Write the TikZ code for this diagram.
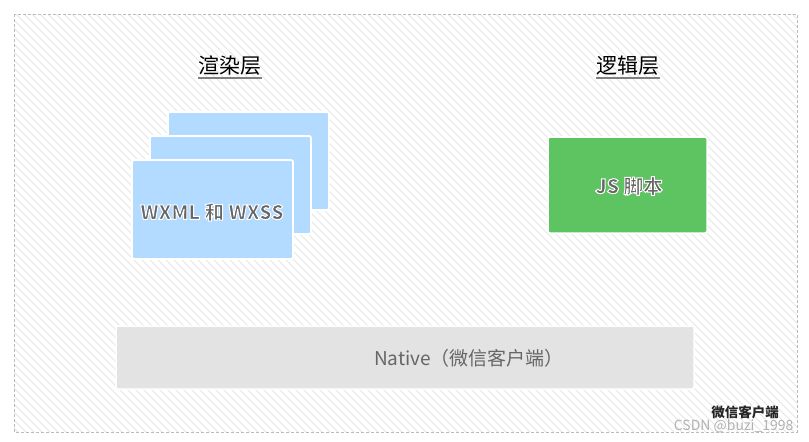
\documentclass[tikz,border=0pt]{standalone}
\usepackage{fontspec}
\setmainfont{Noto Sans CJK SC}
\definecolor{hatch}{HTML}{E6E6E6}
\definecolor{bordergray}{HTML}{BBBBBB}
\definecolor{bluebox}{HTML}{B3DAFF}
\definecolor{greenbox}{HTML}{5EC462}
\definecolor{graybox}{HTML}{E3E3E3}
\definecolor{txtgray}{HTML}{666666}
\newcommand{\halotext}[1]{\special{pdf:code q 1 1 1 RG 2 Tr 1 w}#1\special{pdf:code Q}}
\begin{document}
\begin{tikzpicture}[x=1pt,y=-1pt,
  card/.style={fill=bluebox,draw=white,line width=1.8pt,rounded corners=2pt},
  panel/.style={rounded corners=2pt,draw=white,line width=1.5pt},
  title/.style={font=\fontsize{21}{24}\selectfont,text=black,inner sep=1pt},
  boxtext/.style={font=\fontsize{19.5}{24}\selectfont\bfseries,text=txtgray},
  uline/.style={draw=black!50,line width=2pt}]
\useasboundingbox (0,0) rectangle (809,442);
\fill[white] (0,0) rectangle (809,442);
% hatched background
\begin{scope}
  \clip (14,14) rectangle (797,432);
  \foreach \i in {-440,-432,...,800}{
    \draw[hatch,line width=0.9pt] (\i,14) -- (\i+418,432);
  }
\end{scope}
\draw[bordergray,dashed,line width=0.7pt,dash pattern=on 3pt off 2pt] (14,14) rectangle (797,432);
% titles
\node[title] (rtitle) at (230,66) {渲染层};
\draw[uline] ([xshift=1pt,yshift=-1pt]rtitle.south west) -- ([xshift=-1pt,yshift=-1pt]rtitle.south east);
\node[title] (ltitle) at (628,66) {逻辑层};
\draw[uline] ([xshift=1pt,yshift=-1pt]ltitle.south west) -- ([xshift=-1pt,yshift=-1pt]ltitle.south east);
% stacked cards
\draw[card] (168,112) rectangle (329,210);
\draw[card] (150,136) rectangle (311,234);
\draw[card] (132,160) rectangle (293,259);
\node[boxtext] (wx) at (212,212) {\halotext{WXML 和 WXSS}};
% JS box
\draw[panel,fill=greenbox] (548,137) rectangle (707,233);
\node[boxtext] (js) at (629,186) {\halotext{JS 脚本}};
% native
\draw[panel,fill=graybox] (116,326) rectangle (694,389);
\node[font=\fontsize{19}{22}\selectfont,text=txtgray] (native) at (469,358) {Native（微信客户端）};
% label
\node[font=\fontsize{13.5}{16}\selectfont\bfseries,text=black!85] (client) at (745,412) {微信客户端};
\node[font=\fontsize{14}{16}\selectfont,text=black!30,anchor=east] (wm) at (797,426) {CSDN @buzi\_1998};
\end{tikzpicture}
\end{document}
